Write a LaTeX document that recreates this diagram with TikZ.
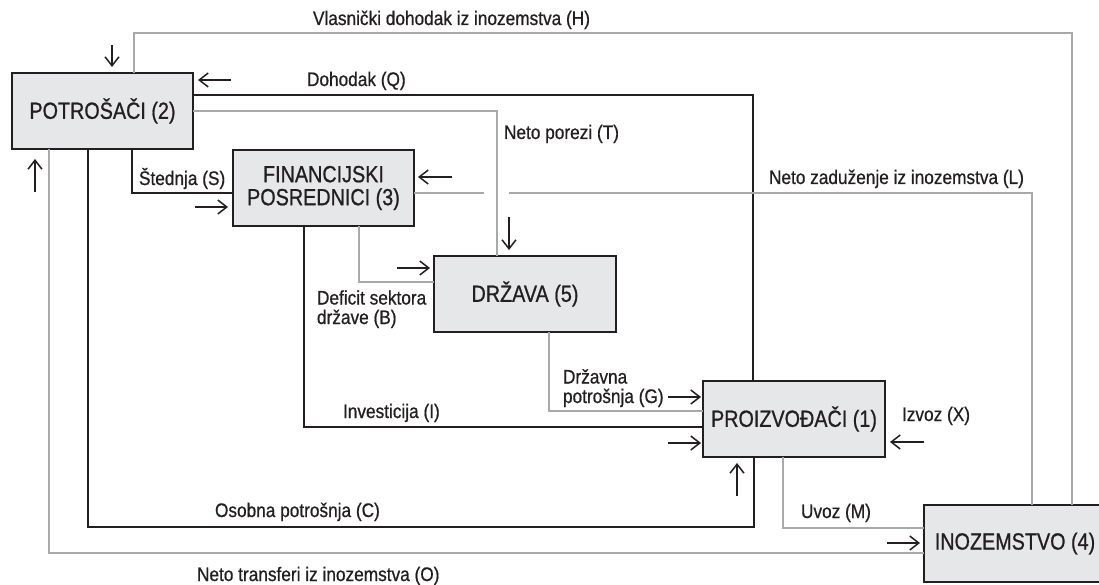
\documentclass[tikz,border=0pt]{standalone}
\usepackage{fontspec}
\setmainfont[FakeStretch=0.88,FakeBold=0.7]{Liberation Sans}
\newfontfamily\boxfont[FakeStretch=0.845,FakeBold=0.8]{Liberation Sans}
\usetikzlibrary{arrows.meta}
\definecolor{boxfill}{HTML}{E6E7E8}
\definecolor{ink}{HTML}{231F20}
\definecolor{flowgray}{HTML}{A7A9AC}
\tikzset{
  box/.style={draw=ink, fill=boxfill, line width=1.4pt, minimum width=181pt,
    minimum height=76pt, inner sep=0pt, outer sep=0pt,
    font=\boxfont\fontsize{23.4}{23}\selectfont, align=center, text=ink},
  lbl/.style={inner sep=0pt, outer sep=0pt, anchor=base west, align=left,
    font=\fontsize{19.6}{19.5}\selectfont, text=ink},
  blk/.style={draw=ink, line width=1.7pt},
  gry/.style={draw=flowgray, line width=1.6pt},
  ind/.style={draw=ink, line width=1.5pt, -{Straight Barb[length=9pt,width=14pt,line width=1.5pt]}}
}
\begin{document}
\begin{tikzpicture}[x=1pt,y=-1pt]
\useasboundingbox (0,0) rectangle (1099,585);

% boxes
\node[box] (pot) at (102.5,111) {POTROŠAČI (2)};
\node[box] (fin) at (323.5,188) {FINANCIJSKI\\POSREDNICI (3)};
\node[box, minimum width=182pt] (drz) at (525,294) {DRŽAVA (5)};
\node[box, minimum width=182pt] (pro) at (794,419) {PROIZVOĐAČI (1)};
\node[box, minimum width=182pt, minimum height=77pt] (ino) at (1015,543.5) {INOZEMSTVO (4)};

% corner coordinates
\coordinate (qc) at (753,95);
\coordinate (tc) at (497,111);
\coordinate (hc1) at (1072,33);
\coordinate (hc2) at (134,33);
\coordinate (lc) at (1032,193);
\coordinate (lg1) at (509,193);
\coordinate (lg2) at (484,193);
\coordinate (sc) at (132,193);
\coordinate (ic) at (304,427);
\coordinate (bc) at (359,282);
\coordinate (gc) at (549,411);
\coordinate (cc1) at (88,527);
\coordinate (cc2) at (754,527);
\coordinate (mc) at (783,528);
\coordinate (oc) at (49,553);

% flows
\draw[blk] (pot.east |- qc) -- (qc) -- (qc |- pro.north);
\draw[gry] (ino.north -| hc1) -- (hc1) -- (hc2) -- (hc2 |- pot.north);
\draw[gry] (ino.north -| lc) -- (lc) -- (lg1);
\draw[gry] (lg2) -- (fin.east |- lg2);
\draw[gry] (pot.east |- tc) -- (tc) -- (tc |- drz.north);
\draw[blk] (pot.south -| sc) -- (sc) -- (fin.west |- sc);
\draw[blk] (fin.south -| ic) -- (ic) -- (pro.west |- ic);
\draw[gry] (fin.south -| bc) -- (bc) -- (drz.west |- bc);
\draw[gry] (drz.south -| gc) -- (gc) -- (pro.west |- gc);
\draw[blk] (pot.south -| cc1) -- (cc1) -- (cc2) -- (cc2 |- pro.south);
\draw[gry] (pro.south -| mc) -- (mc) -- (ino.west |- mc);
\draw[gry] (ino.west |- oc) -- (oc) -- (oc |- pot.south);

% direction indicators
\draw[ind] (112,45) -- (112,67);
\draw[ind] (231,80) -- (198,80);
\draw[ind] (35,192) -- (35,159);
\draw[ind] (195,207) -- (228,207);
\draw[ind] (452,177) -- (418,177);
\draw[ind] (509,217) -- (509,250);
\draw[ind] (397,268) -- (430,268);
\draw[ind] (668,397) -- (701,397);
\draw[ind] (668,443) -- (701,443);
\draw[ind] (737,496) -- (737,463);
\draw[ind] (924,442) -- (890,442);
\draw[ind] (887,543) -- (920,543);

% labels
\node[lbl] (lh) at (313,25) {Vlasnički dohodak iz inozemstva (H)};
\node[lbl] (lq) at (307,86) {Dohodak (Q)};
\node[lbl] (lt) at (504,139) {Neto porezi (T)};
\node[lbl] (ls) at (139,185) {Štednja (S)};
\node[lbl] (ll) at (769,184) {Neto zaduženje iz inozemstva (L)};
\node[lbl] (lb) at (317,324) {Deficit sektora\\države (B)};
\node[lbl] (lg) at (563,403) {Državna\\potrošnja (G)};
\node[lbl] (li) at (343,418) {Investicija (I)};
\node[lbl] (lx) at (902,421) {Izvoz (X)};
\node[lbl] (lc2) at (215,517) {Osobna potrošnja (C)};
\node[lbl] (lm) at (801,518) {Uvoz (M)};
\node[lbl] (lo) at (197,581) {Neto transferi iz inozemstva (O)};
\end{tikzpicture}
\end{document}
